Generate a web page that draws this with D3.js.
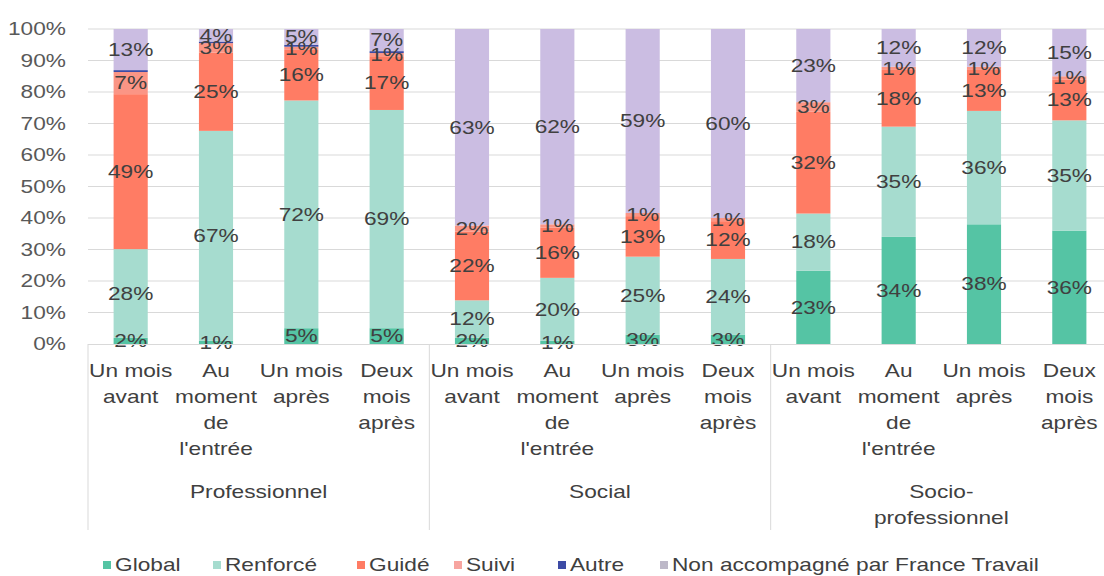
<!DOCTYPE html>
<html lang="fr">
<head>
  <meta charset="UTF-8">
  <title>Accompagnement France Travail</title>
  <script src="https://d3js.org/d3.v7.min.js"></script>
  <style type="text/css">
    body { margin: 0; background: white; }
    text { font-family: "Liberation Sans", Arial, sans-serif; }
  </style>
</head>
<body>
  <div id="chart">
    <svg width="1104" height="576"></svg>
  </div>
  <script type="text/javascript">
    // Data
    const groups = [["Professionnel"], ["Social"], ["Socio-", "professionnel"]];
    const periods = [["Un mois", "avant"], ["Au", "moment", "de", "l'entrée"], ["Un mois", "après"], ["Deux", "mois", "après"]];
    const seriesNames = ["Global", "Renforcé", "Guidé", "Suivi", "Autre", "Non accompagné par France Travail"];
    const colors = ["#55c4a4", "#a6dccf", "#ff7c64", "#fb9585", "#3d4ba5", "#cbbde2"];

    const global = [2, 1, 5, 5, 2, 1, 3, 3, 23, 34, 38, 36];
    const renforce = [28, 67, 72, 69, 12, 20, 25, 24, 18, 35, 36, 35];
    const guide = [49, 25, 16, 17, 22, 16, 13, 12, 32, 18, 13, 13];
    const suivi = [7, 3, 1, 1, 2, 1, 1, 1, 3, 1, 1, 1];
    const autre = [0.6, 0.5, 0.6, 0.6, 0, 0, 0, 0, 0, 0, 0, 0];
    const nonAcc = [13, 4, 5, 7, 63, 62, 59, 60, 23, 12, 12, 15];
    const yTicks = [0, 0.1, 0.2, 0.3, 0.4, 0.5, 0.6, 0.7, 0.8, 0.9, 1];

    const allSeries = [global, renforce, guide, suivi, autre, nonAcc];
    const rows = d3.range(12).map(i => {
      const r = { i: i };
      seriesNames.forEach((s, k) => r[s] = allSeries[k][i]);
      return r;
    });

    const svg = d3.select("svg");
    const stretch = 1.26; // text in the reference is drawn wide
    const x = d3.scaleBand().domain(d3.range(12)).range([88, 1112]).paddingInner(0.6).paddingOuter(0.3);
    const y = d3.scaleLinear().domain([0, 1]).range([344, 29]);

    // text helper: lines of text, stretched horizontally around (tx, ty)
    function label(parent, tx, ty, lines, anchor, fill) {
      const t = parent.append("g")
        .attr("transform", "translate(" + tx + "," + ty + ") scale(" + stretch + ",1)")
        .append("text")
        .attr("text-anchor", anchor).attr("font-size", 18).attr("fill", fill);
      t.selectAll("tspan").data(lines).enter().append("tspan")
        .attr("x", 0)
        .attr("dy", (d, j) => j === 0 ? "0.35em" : "26")
        .text(d => d);
      return t;
    }

    // Gridlines
    svg.append("g").selectAll("line").data(yTicks.slice(1)).enter().append("line")
      .attr("x1", 88).attr("x2", 1104)
      .attr("y1", d => y(d)).attr("y2", d => y(d))
      .attr("stroke", "#d9d9d9").attr("stroke-width", 1);

    // Y axis labels
    const yAxisG = svg.append("g");
    yTicks.forEach(d => label(yAxisG, 66, y(d), [Math.round(d * 100) + "%"], "end", "#595959"));

    // Stacked bars
    const stack = d3.stack().keys(seriesNames).offset(d3.stackOffsetExpand);
    const layers = stack(rows);

    const layerG = svg.append("g").selectAll("g").data(layers).enter().append("g")
      .attr("fill", (d, k) => colors[k]);
    layerG.selectAll("rect").data(d => d).enter().append("rect")
      .attr("x", d => x(d.data.i))
      .attr("width", x.bandwidth())
      .attr("y", d => y(d[1]))
      .attr("height", d => Math.max(0, y(d[0]) - y(d[1])));

    // Data labels (no label for "Autre")
    const labelG = svg.append("g");
    layers.forEach((layer, k) => {
      if (seriesNames[k] === "Autre") return;
      layer.filter(d => d.data[seriesNames[k]] > 0).forEach(d => {
        label(labelG, x(d.data.i) + x.bandwidth() / 2, y((d[0] + d[1]) / 2),
          [Math.round(d.data[seriesNames[k]]) + "%"], "middle", "#404040");
      });
    });

    // Baseline
    svg.append("line").attr("x1", 88).attr("x2", 1104).attr("y1", 344.5).attr("y2", 344.5)
      .attr("stroke", "#d9d9d9");

    // Group dividers
    const step = x.step();
    svg.append("g").selectAll("line").data([0, 4, 8, 12]).enter().append("line")
      .attr("x1", d => 88 + d * step).attr("x2", d => 88 + d * step)
      .attr("y1", 344).attr("y2", 530)
      .attr("stroke", "#d9d9d9");

    // Category labels
    const catG = svg.append("g");
    d3.range(12).forEach(i => label(catG, x(i) + x.bandwidth() / 2, 371, periods[i % 4], "middle", "#404040"));

    // Group labels
    const grpG = svg.append("g");
    groups.forEach((g, k) => label(grpG, 88 + (k * 4 + 2) * step, 492, g, "middle", "#404040"));

    // Legend
    const legendX = [103, 213, 357, 454, 558, 660];
    const leg = svg.append("g");
    seriesNames.forEach((s, k) => {
      leg.append("rect").attr("x", legendX[k]).attr("y", 561).attr("width", 8).attr("height", 8)
        .attr("fill", k === 5 ? "#bdb8c8" : (k === 3 ? "#f7a5a0" : colors[k]));
      label(leg, legendX[k] + 12, 565, [s], "start", "#404040");
    });
  </script>
</body>
</html>
